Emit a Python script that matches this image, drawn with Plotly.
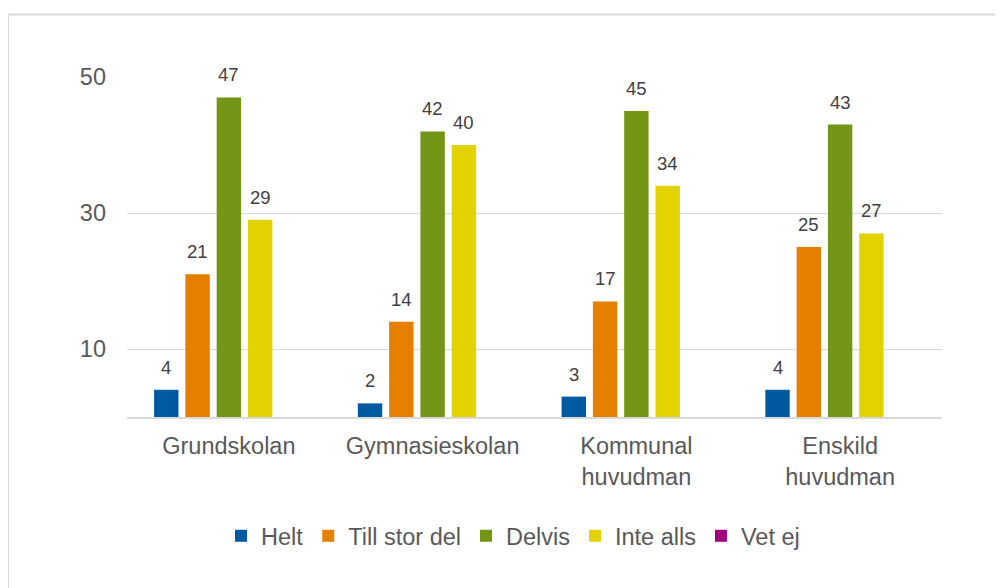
import plotly.graph_objects as go

categories = ["Grundskolan", "Gymnasieskolan", "Kommunal<br>huvudman", "Enskild<br>huvudman"]
series_names = ["Helt", "Till stor del", "Delvis", "Inte alls", "Vet ej"]
helt = [4, 2, 3, 4]
till_stor_del = [21, 14, 17, 25]
delvis = [47, 42, 45, 43]
inte_alls = [29, 40, 34, 27]
vet_ej = [0, 0, 0, 0]
y_ticks = [10, 30, 50]

series_values = [helt, till_stor_del, delvis, inte_alls, vet_ej]
colors = ["#005AA0", "#E67E00", "#739617", "#E1D200", "#A0007A"]
show_labels = [True, True, True, True, False]

FONT = "Liberation Sans, Arial, sans-serif"
OFF = 8  # default body margin of the html page
W, H = 1003 - OFF, 588 - OFF
L, R, T, B = 127 - OFF, 61, 77 - OFF, 171
BARGAP = 0.232
pw = W - L - R
ph = H - T - B

fig = go.Figure()
for name, vals, col in zip(series_names, series_values, colors):
    fig.add_trace(go.Bar(
        name=name, x=categories, y=vals, marker=dict(color=col, line=dict(width=0)),
        hoverinfo="skip",
    ))

# data labels as annotations above each bar
n = len(series_names)
slot = pw / len(categories) * (1 - BARGAP) / n
annotations = []
for j, (vals, show) in enumerate(zip(series_values, show_labels)):
    if not show:
        continue
    for cat, v in zip(categories, vals):
        annotations.append(dict(
            x=cat, y=v, xref="x", yref="y", text=str(v), showarrow=False,
            xshift=(j - (n - 1) / 2) * slot, yshift=10, yanchor="bottom",
            font=dict(family=FONT, size=18.5, color="#404040"),
        ))

# page pixel -> paper coordinates
def px2paper_x(px):
    return (px - OFF - L) / pw

def px2paper_y(py):
    return (H - B - (py - OFF)) / ph

fig.update_layout(
    width=W, height=H,
    margin=dict(l=L, r=R, t=T, b=B, pad=0),
    paper_bgcolor="white", plot_bgcolor="white",
    barmode="group", bargap=BARGAP, bargroupgap=0.22,
    font=dict(family=FONT, size=23.5, color="#595959"),
    showlegend=True,
    legend=dict(orientation="h", x=px2paper_x(513), xanchor="center",
                y=px2paper_y(536), yanchor="middle",
                font=dict(family=FONT, size=23.5, color="#595959"),
                itemclick=False, traceorder="normal"),
    annotations=annotations,
    shapes=[dict(type="rect", xref="paper", yref="paper",
                 x0=px2paper_x(8), x1=px2paper_x(1015),
                 y0=px2paper_y(600), y1=px2paper_y(14.5),
                 line=dict(color="#D9D9D9", width=2), fillcolor="rgba(0,0,0,0)",
                 layer="below")],
)
fig.update_xaxes(showgrid=False, showline=True, linecolor="#D9D9D9", linewidth=1.5,
                 ticks="", ticklabelstandoff=7,
                 tickfont=dict(family=FONT, size=23.5, color="#595959"))
fig.update_yaxes(range=[0, 50], tickvals=y_ticks, showgrid=True, gridcolor="#D9D9D9",
                 gridwidth=1.3, zeroline=False, showline=False, ticks="",
                 ticklabelstandoff=20,
                 tickfont=dict(family=FONT, size=23.5, color="#595959"))

fig.write_html("out.html")
